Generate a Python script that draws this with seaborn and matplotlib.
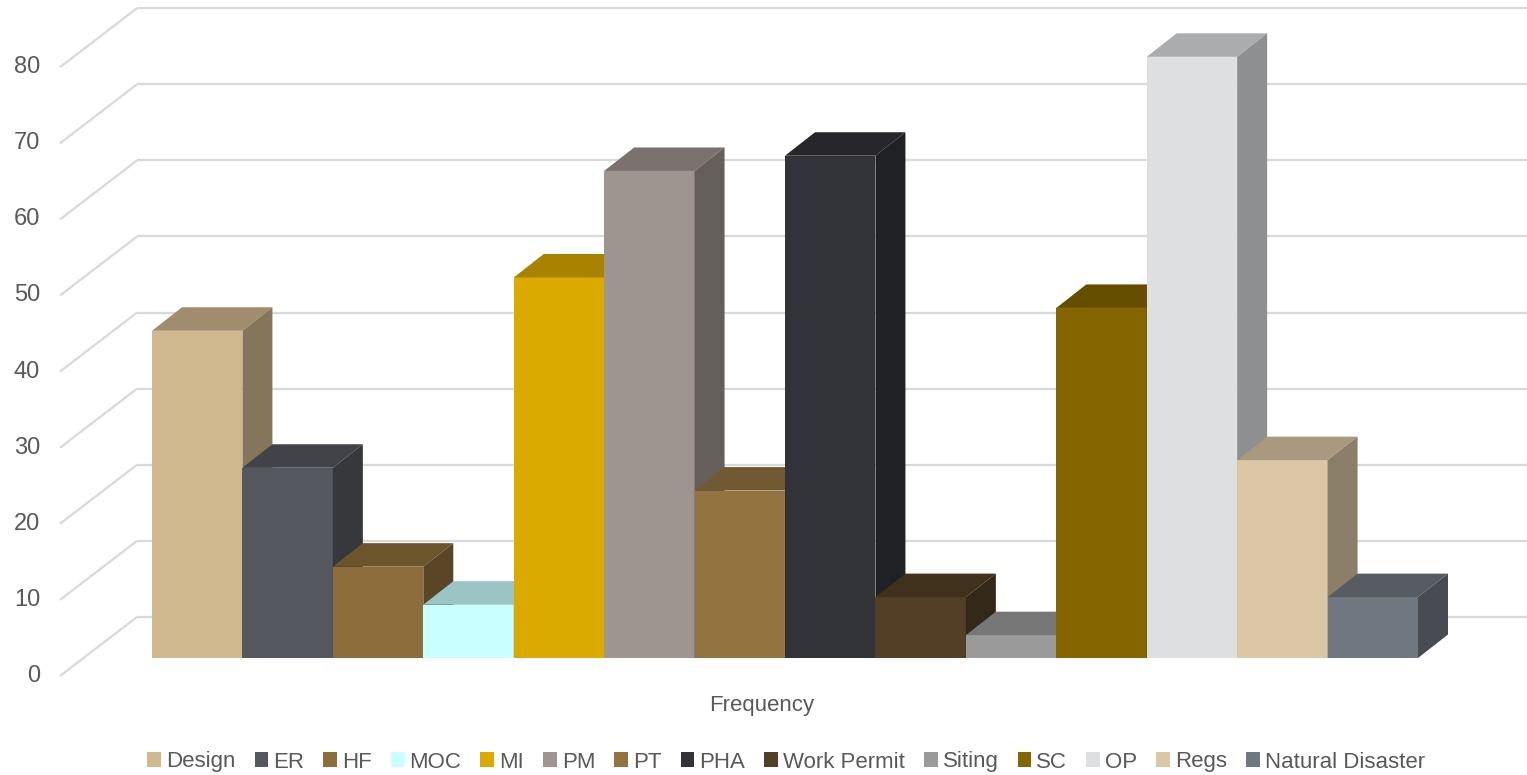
import numpy as np
import pandas as pd
import seaborn as sns
import matplotlib.pyplot as plt
from matplotlib.patches import Polygon, Patch
from matplotlib.colors import to_rgb

# ---- data -------------------------------------------------------------
causes = ["Design", "ER", "HF", "MOC", "MI", "PM", "PT", "PHA",
          "Work Permit", "Siting", "SC", "OP", "Regs", "Natural Disaster"]
frequency = [43, 25, 12, 7, 50, 64, 22, 66, 8, 3, 46, 79, 26, 8]
colors = ["#CFB78E", "#54575E", "#8C6D3B", "#C9FFFF", "#DBAA00", "#9E9490",
          "#937340", "#323338", "#523F25", "#9A9A9A", "#846500", "#DEDFE1",
          "#DBC7A5", "#717780"]
y_ticks = [0, 10, 20, 30, 40, 50, 60, 70, 80]
category = "Frequency"

# ---- layout (pixels) --------------------------------------------------
W, H, DPI = 1527, 775, 100
BAR_LEFT, BAR_RIGHT = 152, 1418      # front faces of the bar row
BASE_FROM_TOP = 658                  # baseline of the bar fronts
PX_PER_UNIT = 7.61                   # vertical scale
DEPTH = (30, 23.5)                   # bar depth offset (right, up)
FRONT_PLANE = (-23.5, -18)           # axis plane relative to bar fronts
BACK_WALL = (53.5, 41)               # back wall relative to bar fronts
TEXT = "#595959"
GRID = "#D9D9D9"

sns.set_style("white")
plt.rcParams["font.family"] = ["Liberation Sans", "DejaVu Sans"]

df = pd.DataFrame({"metric": [category] * len(causes),
                   "cause": causes, "count": frequency})

fig = plt.figure(figsize=(W / DPI, H / DPI), dpi=DPI)
ax = fig.add_axes([0, 0, 1, 1])

sns.barplot(data=df, x="metric", y="count", hue="cause", hue_order=causes,
            palette=colors, saturation=1, width=0.8, gap=0, dodge=True,
            linewidth=0, legend=False, ax=ax, zorder=2)

# map the pixel layout onto data coordinates
px_x = (BAR_RIGHT - BAR_LEFT) / 0.8
x0 = -0.4 - BAR_LEFT / px_x
ax.set_xlim(x0, x0 + W / px_x)
base_from_bottom = H - BASE_FROM_TOP
ax.set_ylim(-base_from_bottom / PX_PER_UNIT, (H - base_from_bottom) / PX_PER_UNIT)
ax.set_axis_off()


def xd(px):
    return x0 + px / px_x


ddx, ddy = DEPTH[0] / px_x, DEPTH[1] / PX_PER_UNIT
fpx, fpy = FRONT_PLANE[0] / px_x, FRONT_PLANE[1] / PX_PER_UNIT
bwx, bwy = BACK_WALL[0] / px_x, BACK_WALL[1] / PX_PER_UNIT

# side wall and back wall gridlines with the value labels
front_left = xd(60)
back_left = front_left + (bwx - fpx)
for v in y_ticks:
    ax.plot([front_left, back_left], [v + fpy, v + bwy], color=GRID, lw=1.6,
            zorder=0.5, solid_capstyle="butt")
    ax.plot([back_left, ax.get_xlim()[1]], [v + bwy, v + bwy], color=GRID,
            lw=1.6, zorder=0.5, solid_capstyle="butt")
    ax.text(xd(40), v + fpy, str(v), ha="right", va="center",
            fontsize=17, color=TEXT)


def shade(c, f):
    r, g, b = to_rgb(c)
    return (r * f, g * f, b * f)


# 3D top and side faces for every bar, in drawing order left to right
bars = sorted(ax.patches, key=lambda p: p.get_x())
for i, (bar, col) in enumerate(zip(bars, colors)):
    z = 2 + i * 0.1
    bar.set_zorder(z)
    xl, w, h = bar.get_x(), bar.get_width(), bar.get_height()
    xr = xl + w
    top = Polygon([(xl, h), (xr, h), (xr + ddx, h + ddy), (xl + ddx, h + ddy)],
                  closed=True, facecolor=shade(col, 0.77), edgecolor="none",
                  zorder=z + 0.01)
    side = Polygon([(xr, 0), (xr, h), (xr + ddx, h + ddy), (xr + ddx, ddy)],
                   closed=True, facecolor=shade(col, 0.64), edgecolor="none",
                   zorder=z + 0.02)
    ax.add_patch(top)
    ax.add_patch(side)

# category label under the floor
ax.text(0 + fpx, -(705 - BASE_FROM_TOP) / PX_PER_UNIT, category,
        ha="center", va="center", fontsize=16, color=TEXT)

handles = [Patch(facecolor=c, edgecolor="none", label=n)
           for n, c in zip(causes, colors)]
fig.legend(handles=handles, loc="center", ncol=len(causes),
           bbox_to_anchor=(786 / W, 1 - 762 / H), frameon=False,
           fontsize=16, labelcolor=TEXT, handlelength=0.62, handleheight=0.62,
           handletextpad=0.22, columnspacing=0.86, borderaxespad=0)

fig.savefig("out.png", dpi=DPI)
